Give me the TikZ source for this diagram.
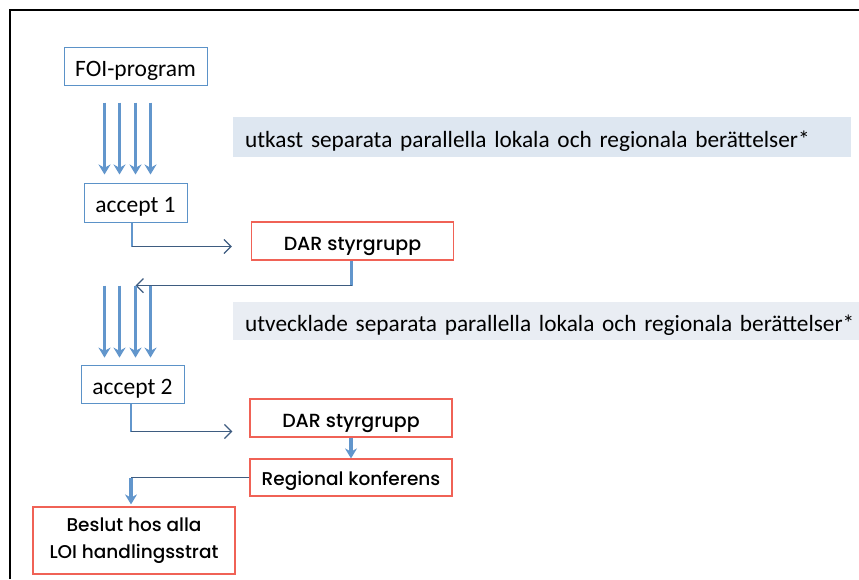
\documentclass[tikz,border=0pt]{standalone}
\usepackage{fontspec}
\setmainfont{Carlito}
\newfontfamily\gothic{Poppins Medium}
\usepackage{tikz}
\usetikzlibrary{arrows,arrows.meta,shapes,positioning}
\definecolor{boxblue}{RGB}{91,146,200}
\definecolor{arrblue}{RGB}{98,150,204}
\definecolor{boxred}{RGB}{240,98,86}
\definecolor{linedark}{RGB}{62,92,128}
\definecolor{bandA}{RGB}{222,231,241}
\definecolor{bandB}{RGB}{233,237,243}
\tikzstyle{bluebox} = [draw=boxblue, line width=1pt, inner sep=0pt, text height=20pt, text depth=0pt, font=\fontsize{23.5}{28}\selectfont]
\tikzstyle{redbox} = [draw=boxred, line width=1.2pt, minimum width=202pt, inner sep=0pt, align=center, font=\gothic\fontsize{19}{26.5}\selectfont]
\tikzstyle{band} = [anchor=west, inner xsep=12pt, inner ysep=0pt, align=left, text height=20pt, text depth=0pt, font=\fontsize{23.3}{28}\selectfont]
\tikzstyle{fat} = [line width=3.5pt, color=arrblue, -{Stealth[length=10pt, width=12pt]}]
\tikzstyle{stem} = [line width=2.5pt, color=arrblue]
\tikzstyle{link} = [line width=1.3pt, color=linedark, -{Straight Barb[length=7pt, width=14pt]}]

\begin{document}
\begin{tikzpicture}[x=1pt, y=-1pt]
\useasboundingbox (0,0) rectangle (859,579);
% frame
\draw[line width=2pt] (10,579) -- (10,10) -- (859,10);

% boxes
\node[bluebox, minimum width=143pt, minimum height=38pt] (foi) at (135.5,66) {FOI-program};
\node[bluebox, minimum width=103pt, minimum height=39pt] (acc1) at (135.5,202.5) {accept 1};
\node[redbox, minimum height=38pt, text height=18pt, text depth=0pt] (dar1) at (352.5,241) {DAR styrgrupp};
\node[bluebox, minimum width=103pt, minimum height=38pt] (acc2) at (132.5,384) {accept 2};
\node[redbox, minimum height=38pt, text height=18pt, text depth=0pt] (dar2) at (351,418) {DAR styrgrupp};
\node[redbox, minimum height=37pt, text height=15pt, text depth=0pt, font=\gothic\fontsize{18.5}{26}\selectfont] (reg) at (351,477.5) {Regional konferens};
\node[redbox, minimum height=67pt, font=\gothic\fontsize{18.5}{26.5}\selectfont] (beslut) at (134,540.5) {Beslut hos alla\\LOI handlingsstrat};

% grey bands
\node[band, fill=bandA, text width=594pt, minimum height=40pt] (utkast) at (233,137) {\mbox{utkast separata parallella lokala och regionala berättelser*}};
\node[band, fill=bandB, text width=602pt, minimum height=38pt] (utveckl) at (233,321) {\mbox{utvecklade separata parallella lokala och regionala berättelser*}};

% first bundle
\foreach \dx in {-31,-16,0,15}
  \draw[fat] ([shift={(\dx,17)}]foi.south) -- ([shift={(\dx,-8)}]foi.south |- acc1.north);

% accept 1 -> DAR
\draw[stem] ([xshift=-3.5pt]acc1.south) -- ++(0,24) coordinate (k1);
\draw[link, shorten >=19pt] (k1) -- (k1 -| dar1.west);

% DAR -> back
\draw[stem] ([xshift=-1pt]dar1.south) -- ++(0,25) coordinate (k2);
\coordinate (merge) at (k2 -| acc1.south);
\draw[link] (k2) -- (merge);

% second bundle
\foreach \dx in {-31,-16,0,15}
  \draw[fat] ([xshift=\dx pt]merge) -- ++(0,72);

% accept 2 -> DAR
\draw[stem] ([xshift=-1.5pt]acc2.south) -- ++(0,28) coordinate (k3);
\draw[link, shorten >=17pt] (k3) -- (k3 -| dar2.west);

% DAR -> konferens -> beslut
\draw[fat] (dar2.south) -- (reg.north);
\coordinate (k4) at ([xshift=-3pt]reg.west -| beslut.north);
\draw[line width=1.3pt, linedark] (reg.west) -- (k4);
\draw[fat] (k4) -- ([xshift=-3pt, yshift=2pt]beslut.north);
\end{tikzpicture}
\end{document}
